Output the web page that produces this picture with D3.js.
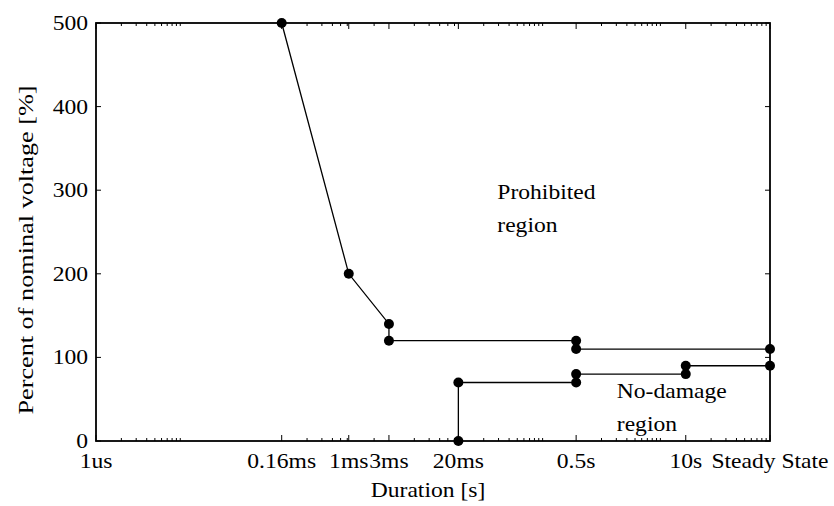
<!DOCTYPE html>
<html>
<head>
<meta charset="utf-8">
<script src="https://cdn.jsdelivr.net/npm/d3@7"></script>
<style>
  html, body { margin: 0; padding: 0; background: #fff; }
  svg text { font-family: "Liberation Serif", "Times New Roman", serif; fill: #000; }
</style>
</head>
<body>
<svg id="chart" width="834" height="506"></svg>
<script>
// Voltage-tolerance envelope (duration in seconds, voltage in % of nominal)
const xTickValues = [1e-6, 1.6e-4, 1e-3, 3e-3, 2e-2, 0.5, 10, 100];
const xTickLabels = ["1us", "0.16ms", "1ms", "3ms", "20ms", "0.5s", "10s", "Steady State"];
const yTickValues = [0, 100, 200, 300, 400, 500];

// Upper boundary (prohibited region above)
const upperDuration = [1.6e-4, 1e-3, 3e-3, 3e-3, 0.5, 0.5, 100];
const upperVoltage  = [500, 200, 140, 120, 120, 110, 110];

// Lower boundary (no-damage region below)
const lowerDuration = [2e-2, 2e-2, 0.5, 0.5, 10, 10, 100];
const lowerVoltage  = [0, 70, 70, 80, 80, 90, 90];

// Region annotations: [duration, voltage] anchor of the first line
const regionLabels = [
  { lines: ["Prohibited", "region"], at: [0.058, 290] },
  { lines: ["No-damage", "region"], at: [1.52, 52] }
];

const W = 834, H = 506;
const margin = { left: 96, right: 64, top: 23, bottom: 65 };
const FS = 20.5, SX = 1.15; // font size and horizontal glyph stretch

const svg = d3.select("#chart");
const x = d3.scaleLog().domain([1e-6, 100]).range([margin.left, W - margin.right]);
const y = d3.scaleLinear().domain([0, 500]).range([H - margin.bottom, margin.top]);

// Minor ticks: multiples of each labelled tick up to the next label
const minorTicks = [];
xTickValues.forEach((v, i) => {
  const next = i < xTickValues.length - 1 ? xTickValues[i + 1] : Infinity;
  for (let k = 2; k <= 10; k++) {
    const m = v * k;
    if (m < next * 0.999 && m <= 100) minorTicks.push(m);
  }
});

function stretchedText(g, tx, ty, str, anchor) {
  return g.append("text")
    .attr("transform", `translate(${tx},${ty}) scale(${SX},1)`)
    .attr("text-anchor", anchor || "start")
    .attr("font-size", FS)
    .text(str);
}

const x0 = x.range()[0], x1 = x.range()[1];
const y0 = y.range()[0], y1 = y.range()[1];

// Tick marks, inside the box on all four sides
const ticks = svg.append("g").attr("stroke", "#000").attr("stroke-width", 1);
minorTicks.forEach(v => {
  ticks.append("line").attr("x1", x(v)).attr("x2", x(v)).attr("y1", y0).attr("y2", y0 - 3);
  ticks.append("line").attr("x1", x(v)).attr("x2", x(v)).attr("y1", y1).attr("y2", y1 + 3);
});
xTickValues.forEach(v => {
  ticks.append("line").attr("x1", x(v)).attr("x2", x(v)).attr("y1", y0).attr("y2", y0 - 6);
  ticks.append("line").attr("x1", x(v)).attr("x2", x(v)).attr("y1", y1).attr("y2", y1 + 6);
});
yTickValues.forEach(v => {
  ticks.append("line").attr("x1", x0).attr("x2", x0 + 5).attr("y1", y(v)).attr("y2", y(v));
  ticks.append("line").attr("x1", x1).attr("x2", x1 - 5).attr("y1", y(v)).attr("y2", y(v));
});

// Axes box
svg.append("rect")
  .attr("x", x0).attr("y", y1)
  .attr("width", x1 - x0).attr("height", y0 - y1)
  .attr("fill", "none").attr("stroke", "#000").attr("stroke-width", 1.8);

// Tick labels
const labels = svg.append("g");
xTickValues.forEach((v, i) => stretchedText(labels, x(v), y0 + 27, xTickLabels[i], "middle"));
yTickValues.forEach(v => stretchedText(labels, x0 - 8, y(v) + 7, String(v), "end"));

// Axis titles
stretchedText(labels, 428, H - 9, "Duration [s]", "middle");
labels.append("text")
  .attr("transform", `translate(${x0 - 63},250) rotate(-90) scale(1.28,1.05)`)
  .attr("text-anchor", "middle")
  .attr("font-size", FS)
  .text("Percent of nominal voltage [%]");

// Boundary curves with markers
const line = d3.line().x(d => x(d[0])).y(d => y(d[1]));
[[upperDuration, upperVoltage], [lowerDuration, lowerVoltage]].forEach(([ds, vs]) => {
  const pts = ds.map((d, i) => [d, vs[i]]);
  svg.append("path").datum(pts)
    .attr("d", line)
    .attr("fill", "none").attr("stroke", "#000").attr("stroke-width", 1.3);
  svg.append("g").selectAll("circle").data(pts).join("circle")
    .attr("cx", d => x(d[0])).attr("cy", d => y(d[1]))
    .attr("r", 5).attr("fill", "#000");
});

// Region annotations
regionLabels.forEach(r => {
  r.lines.forEach((t, j) => stretchedText(svg, x(r.at[0]), y(r.at[1]) + j * 33, t, "start"));
});
</script>
</body>
</html>
